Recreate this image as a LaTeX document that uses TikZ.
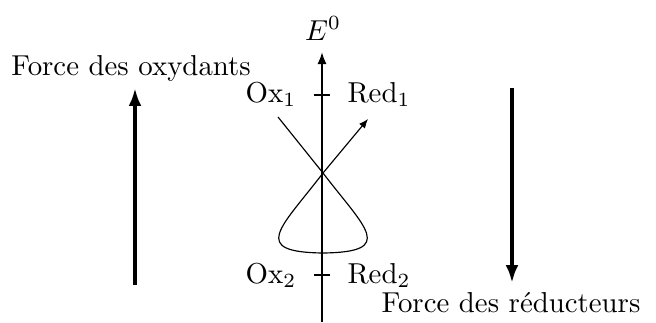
\documentclass[tikz,border=0pt]{standalone}
\usepackage{amsmath}
\usepackage{tikz}
\usetikzlibrary{arrows.meta,positioning}

\tikzset{
  axe/.style={-{Latex[length=4.2pt,width=3.2pt]}, line width=0.7pt},
  force/.style={-{Latex[length=6.2pt,width=4.4pt]}, line width=1.4pt},
  couple/.style={anchor=base},
}

\begin{document}
\begin{tikzpicture}[x=0.347pt, y=-0.347pt, font=\normalsize]
  \useasboundingbox (0,0) rectangle (656,322);
  % axe des potentiels
  \coordinate (bas) at (322,322);
  \coordinate (haut) at (322,52);
  \draw[axe] (bas) -- (haut);
  \node[anchor=base] (E) at (323,40) {$E^0$};
  % couples
  \coordinate (c1) at (322,95);
  \coordinate (c2) at (322,275);
  \draw[line width=0.7pt] (c1) ++(-8,0) -- ++(16,0);
  \draw[line width=0.7pt] (c2) ++(-8,0) -- ++(16,0);
  \node[couple] (ox1) at (271,102) {$\mathrm{Ox}_1$};
  \node[couple] (red1) at (379,102) {$\mathrm{Red}_1$};
  \node[couple] (ox2) at (271,283) {$\mathrm{Ox}_2$};
  \node[couple] (red2) at (379,283) {$\mathrm{Red}_2$};
  % gamma
  \coordinate (g0) at (278,117);
  \coordinate (x) at (323,173);
  \coordinate (g1) at (368,119);
  \draw[-{Latex[length=3.2pt,width=2.6pt]}] (g0) -- (x)
    .. controls (365,228) and (397,252) .. (323,253)
    .. controls (249,252) and (281,228) .. (x) -- (g1);
  % forces
  \node[anchor=base] (fox) at (131,75) {Force des oxydants};
  \coordinate (o1) at (135,285);
  \coordinate (o2) at (135,88);
  \draw[force] (o1) -- (o2);
  \node[anchor=base] (fred) at (511,312) {Force des réducteurs};
  \coordinate (r1) at (512,88);
  \coordinate (r2) at (512,283);
  \draw[force] (r1) -- (r2);
\end{tikzpicture}
\end{document}
